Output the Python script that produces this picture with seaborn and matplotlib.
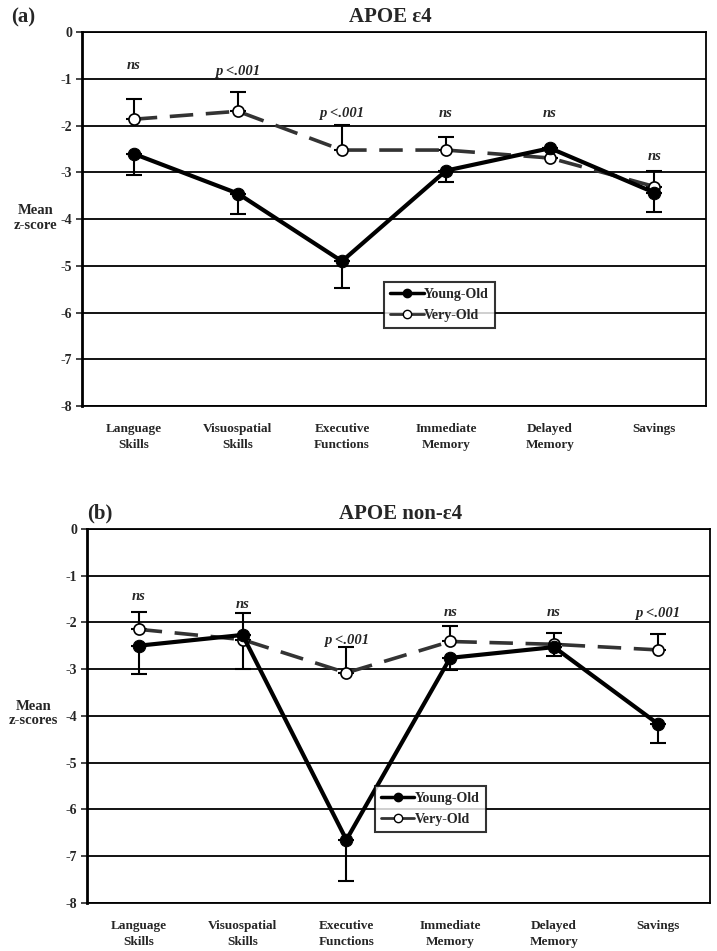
import matplotlib
matplotlib.use("Agg")
import matplotlib.pyplot as plt
import seaborn as sns
import pandas as pd
from matplotlib.lines import Line2D

categories = ["Language\nSkills", "Visuospatial\nSkills", "Executive\nFunctions",
              "Immediate\nMemory", "Delayed\nMemory", "Savings"]

# Panel (a) APOE e4
a_young = [-2.60, -3.45, -4.90, -2.96, -2.48, -3.43]
a_young_err = [0.45, 0.43, 0.57, 0.24, 0.0, 0.42]
a_very = [-1.86, -1.69, -2.52, -2.52, -2.69, -3.30]
a_very_err = [0.43, 0.41, 0.53, 0.27, 0.0, 0.33]
a_sig = ["ns", "p <.001", "p <.001", "ns", "ns", "ns"]
a_sig_y = [-0.72, -0.84, -1.73, -1.73, -1.73, -2.65]

# Panel (b) APOE non-e4
b_young = [-2.50, -2.27, -6.65, -2.76, -2.53, -4.17]
b_young_err = [0.60, 0.72, 0.89, 0.27, 0.20, 0.40]
b_very = [-2.15, -2.37, -3.08, -2.41, -2.47, -2.59]
b_very_err = [0.38, 0.57, 0.56, 0.34, 0.25, 0.35]
b_sig = ["ns", "ns", "p <.001", "ns", "ns", "p <.001"]
b_sig_y = [-1.45, -1.62, -2.38, -1.78, -1.78, -1.82]

yticks = [0, -1, -2, -3, -4, -5, -6, -7, -8]

sns.set_style("white")
plt.rcParams['font.family'] = ['Liberation Serif', 'DejaVu Serif']
plt.rcParams['font.weight'] = 'bold'

fig = plt.figure(figsize=(7.17, 9.51), dpi=100)
ax1 = fig.add_axes([0.114, 0.573, 0.871, 0.393])
ax2 = fig.add_axes([0.121, 0.0505, 0.869, 0.3935])


def draw(ax, young, young_err, very, very_err, sig, sig_y, title, tag, ylab, tagx, titlex, legpos):
    df_y = pd.DataFrame({"cat": categories, "val": young})
    df_v = pd.DataFrame({"cat": categories, "val": very})
    ax.set_ylim(-8, 0)
    for t in yticks:
        ax.axhline(t, color="black", lw=1.3, zorder=1)
    # error bars: Young-Old lower only, Very-Old upper only
    ax.errorbar(categories, young, yerr=[young_err, [0] * len(young)], fmt="none",
                ecolor="black", elinewidth=1.5, capsize=5.5, capthick=1.5, zorder=3)
    ax.errorbar(categories, very, yerr=[[0] * len(very), very_err], fmt="none",
                ecolor="black", elinewidth=1.5, capsize=5.5, capthick=1.5, zorder=3)
    sns.lineplot(data=df_v, x="cat", y="val", ax=ax, color="#333333", lw=2.6,
                 linestyle=(0, (6.5, 3.5)), marker="o", markersize=8, markerfacecolor="white",
                 markeredgecolor="black", markeredgewidth=1.2, sort=False, zorder=4)
    sns.lineplot(data=df_y, x="cat", y="val", ax=ax, color="black", lw=3.0,
                 marker="o", markersize=9, markerfacecolor="black",
                 markeredgecolor="black", sort=False, zorder=5)
    ax.set_xlim(-0.5, len(categories) - 0.5)
    ax.set_yticks(yticks)
    ax.set_yticklabels([str(t) for t in yticks], fontsize=10, fontweight="bold")
    ax.tick_params(axis="y", length=4, width=1.2, direction="out", pad=3, left=True)
    ax.tick_params(axis="x", length=0, pad=12, labelsize=9.5)
    for lbl in ax.get_xticklabels():
        lbl.set_fontweight("bold")
        lbl.set_linespacing(1.45)
    ax.set_xlabel("")
    ax.set_ylabel("")
    for sp in ax.spines.values():
        sp.set_color("black")
        sp.set_linewidth(1.3)
    ax.spines["left"].set_linewidth(2.0)
    for i, (s, y) in enumerate(zip(sig, sig_y)):
        ax.text(i, y, s, ha="center", va="center", fontsize=10.5,
                fontstyle="italic", fontweight="bold")
    fig.text(tagx, ax.get_position().y1 + 0.016, tag, fontsize=15, fontweight="bold",
             ha="left", va="center")
    fig.text(titlex, ax.get_position().y1 + 0.016, title, fontsize=15, fontweight="bold",
             ha="center", va="center")
    fig.text(ylab[1], ylab[2], ylab[0], fontsize=10.5, fontweight="bold",
             ha="center", va="center", linespacing=1.15)
    handles = [Line2D([], [], color="black", lw=2.5, marker="o", markersize=6,
                      markerfacecolor="black", markeredgecolor="black"),
               Line2D([], [], color="#333333", lw=2.0, marker="o", markersize=6,
                      markerfacecolor="white", markeredgecolor="black")]
    leg = ax.legend(handles, ["Young-Old", "Very-Old"], loc="upper left",
                    bbox_to_anchor=legpos, borderaxespad=0, frameon=True, fancybox=False,
                    edgecolor="black", handlelength=2.4, handletextpad=0.05,
                    borderpad=0.45, labelspacing=0.55, prop={"size": 10, "weight": "bold"})
    leg.get_frame().set_linewidth(1.5)
    leg.set_zorder(10)


draw(ax1, a_young, a_young_err, a_very, a_very_err, a_sig, a_sig_y, "APOE ε4", "(a)",
     ("Mean\nz-score", 0.05, 0.771), 0.016, 0.544, (0.484, 0.332))
draw(ax2, b_young, b_young_err, b_very, b_very_err, b_sig, b_sig_y, "APOE non-ε4", "(b)",
     ("Mean\nz-scores", 0.047, 0.250), 0.122, 0.558, (0.462, 0.313))

fig.savefig("out.png", dpi=100, facecolor="white")
